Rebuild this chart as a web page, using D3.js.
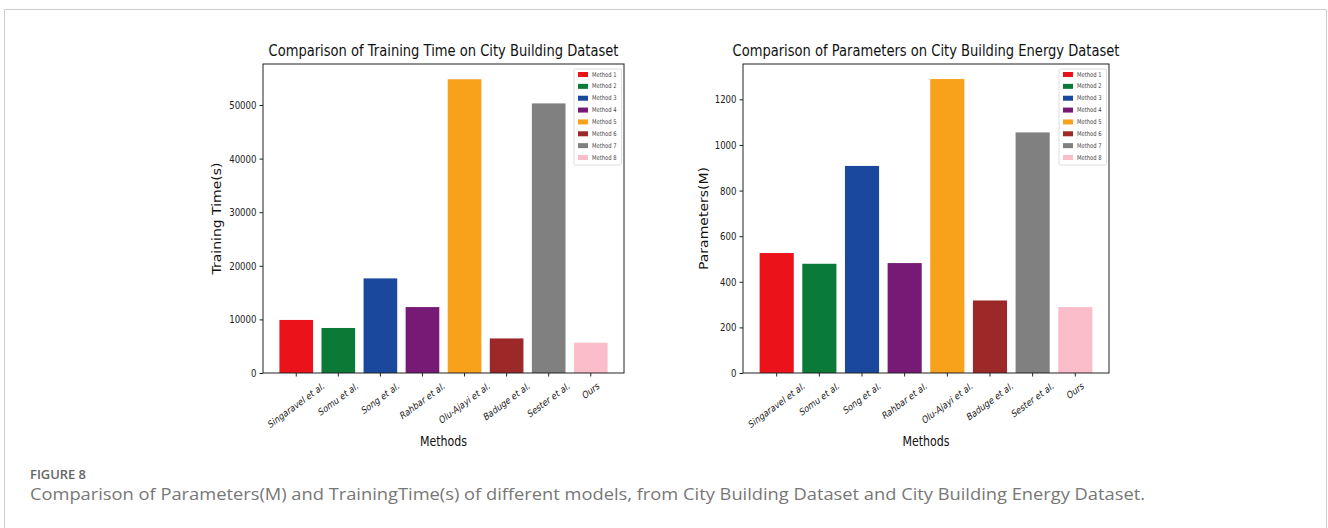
<!DOCTYPE html>
<html>
<head>
<meta charset="utf-8">
<script src="https://cdn.jsdelivr.net/npm/d3@7"></script>
<style>
  body { margin: 0; background: #fff; }
  svg { display: block; }
</style>
</head>
<body>
<svg id="chart" width="1328" height="528"></svg>
<script>
// ---------- data ----------
const categories = ["Singaravel et al.", "Somu et al.", "Song et al.", "Rahbar et al.", "Olu-Ajayi et al.", "Baduge et al.", "Sester et al.", "Ours"];
const trainingTime = [9900, 8400, 17650, 12300, 54800, 6450, 50300, 5650];
const parameters = [526, 479, 908, 482, 1289, 318, 1055, 289];
const legendLabels = ["Method 1", "Method 2", "Method 3", "Method 4", "Method 5", "Method 6", "Method 7", "Method 8"];
const barColors = ["#ec1219", "#0b7a38", "#1a489d", "#771a75", "#f8a11b", "#9c2828", "#808080", "#fabdc9"];
const timeTicks = [0, 10000, 20000, 30000, 40000, 50000];
const paramTicks = [0, 200, 400, 600, 800, 1000, 1200];

const svg = d3.select("#chart");
const FONT = "DejaVu Sans, sans-serif";
const SQ = 0.78;

function squeeze(sel, f) {
  sel.each(function () {
    const n = this.getComputedTextLength();
    if (n > 0) {
      d3.select(this).attr("textLength", n * f).attr("lengthAdjust", "spacingAndGlyphs");
    }
  });
}

// outer frame
svg.append("path")
  .attr("d", "M4.5,528 L4.5,9.5 L1326.5,9.5 L1326.5,528")
  .attr("fill", "none").attr("stroke", "#cdcdcd").attr("stroke-width", 1);

function drawPanel(cfg) {
  const { left, right, top, bottom, values, yMax, ticks, title, titleW, yLabel, yLabelX } = cfg;
  const g = svg.append("g");
  const x = d3.scaleBand().domain(categories).range([left, right]).paddingInner(0.2).paddingOuter(0.39);
  const y = d3.scaleLinear().domain([0, yMax]).range([bottom, top]);

  // bars
  g.selectAll("rect.bar").data(values).join("rect")
    .attr("class", "bar")
    .attr("x", (d, i) => x(categories[i]))
    .attr("width", x.bandwidth())
    .attr("y", d => y(d))
    .attr("height", d => y(0) - y(d))
    .attr("fill", (d, i) => barColors[i]);

  // frame
  g.append("rect")
    .attr("x", left).attr("y", top)
    .attr("width", right - left).attr("height", bottom - top)
    .attr("fill", "none").attr("stroke", "#222").attr("stroke-width", 1);

  // y axis
  const ya = g.append("g").attr("transform", `translate(${left},0)`)
    .call(d3.axisLeft(y).tickValues(ticks).tickSize(3.5).tickPadding(3).tickFormat(d3.format("d")));
  ya.select(".domain").remove();
  ya.selectAll("line").attr("stroke", "#222");
  ya.selectAll("text").attr("font-family", FONT).attr("font-size", 11).attr("fill", "#222")
    .call(squeeze, SQ);

  // x axis ticks
  const xa = g.append("g").attr("transform", `translate(0,${bottom})`)
    .call(d3.axisBottom(x).tickSize(3.5).tickFormat(""));
  xa.select(".domain").remove();
  xa.selectAll("line").attr("stroke", "#222");

  // rotated tick labels (rotation=30, ha=center, then horizontally compressed like the source image)
  const fs = 10;
  const labelTop = bottom + 3.5 + 4;
  const a = Math.PI / 6;
  categories.forEach(c => {
    const t = g.append("text")
      .attr("font-family", FONT).attr("font-size", fs).attr("fill", "#222")
      .attr("text-anchor", "middle").attr("dominant-baseline", "central")
      .text(c);
    const w = t.node().getComputedTextLength();
    const h = fs * 1.0;
    const H = w * Math.sin(a) + h * Math.cos(a);
    const cx = x(c) + x.bandwidth() / 2;
    const cy = labelTop + H / 2;
    t.attr("transform", `translate(${cx},${cy}) scale(${SQ},1) rotate(-30)`);
  });

  // title
  g.append("text")
    .attr("x", (left + right) / 2).attr("y", top - 8)
    .attr("text-anchor", "middle").attr("font-family", FONT).attr("font-size", 16).attr("fill", "#111")
    .attr("textLength", titleW).attr("lengthAdjust", "spacingAndGlyphs")
    .text(title);

  // x label
  g.append("text")
    .attr("x", (left + right) / 2).attr("y", 446)
    .attr("text-anchor", "middle").attr("font-family", FONT).attr("font-size", 14).attr("fill", "#111")
    .attr("textLength", 47).attr("lengthAdjust", "spacingAndGlyphs")
    .text("Methods");

  // y label
  g.append("text")
    .attr("transform", `translate(${yLabelX},${(top + bottom) / 2}) scale(0.85,1) rotate(-90)`)
    .attr("text-anchor", "middle").attr("font-family", FONT).attr("font-size", 14).attr("fill", "#111")
    .text(yLabel);

  // legend
  const lgW = 47.5, lgH = 96;
  const lgX = right - 2.5 - lgW, lgY = top + 5;
  const lg = g.append("g").attr("transform", `translate(${lgX},${lgY})`);
  lg.append("rect").attr("width", lgW).attr("height", lgH).attr("rx", 1.5)
    .attr("fill", "#fff").attr("stroke", "#d6d6d6").attr("stroke-width", 0.8);
  const rowY = d3.scaleLinear().domain([0, legendLabels.length - 1]).range([5.5, 88.5]);
  legendLabels.forEach((lab, i) => {
    lg.append("rect").attr("x", 4).attr("y", rowY(i) - 2.5).attr("width", 10).attr("height", 5)
      .attr("fill", barColors[i]);
    lg.append("text").attr("x", 18).attr("y", rowY(i)).attr("dominant-baseline", "central")
      .attr("font-family", FONT).attr("font-size", 6.5).attr("fill", "#444")
      .text(lab).call(squeeze, 0.8);
  });
}

drawPanel({
  left: 263, right: 624, top: 64, bottom: 373,
  values: trainingTime, yMax: 57650, ticks: timeTicks,
  title: "Comparison of Training Time on City Building Dataset", titleW: 350,
  yLabel: "Training Time(s)", yLabelX: 221
});

drawPanel({
  left: 743, right: 1109, top: 64, bottom: 373,
  values: parameters, yMax: 1355, ticks: paramTicks,
  title: "Comparison of Parameters on City Building Energy Dataset", titleW: 387,
  yLabel: "Parameters(M)", yLabelX: 708
});

// caption
svg.append("text").attr("x", 30).attr("y", 479)
  .attr("font-family", "Open Sans, sans-serif").attr("font-size", 12.5).attr("font-weight", 600)
  .attr("fill", "#666").attr("textLength", 56).attr("lengthAdjust", "spacingAndGlyphs")
  .text("FIGURE 8");
svg.append("text").attr("x", 30).attr("y", 500)
  .attr("font-family", "Open Sans, sans-serif").attr("font-size", 16)
  .attr("fill", "#777").attr("textLength", 1115).attr("lengthAdjust", "spacingAndGlyphs")
  .text("Comparison of Parameters(M) and TrainingTime(s) of different models, from City Building Dataset and City Building Energy Dataset.");
</script>
</body>
</html>
